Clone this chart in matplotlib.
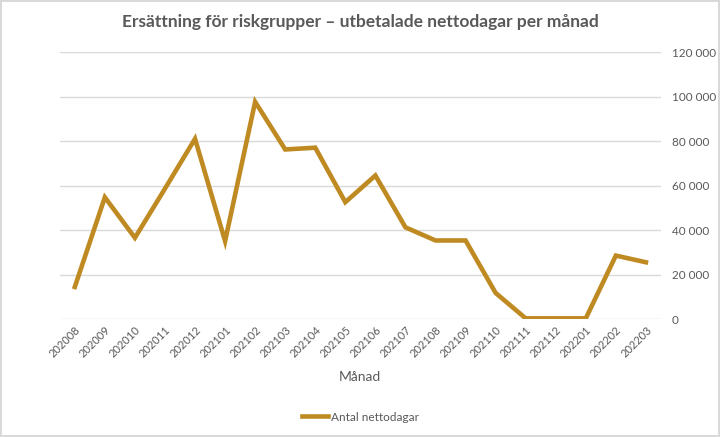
import numpy as np
import matplotlib.pyplot as plt
from matplotlib.ticker import FuncFormatter

# data
months = ['202008', '202009', '202010', '202011', '202012', '202101', '202102',
          '202103', '202104', '202105', '202106', '202107', '202108', '202109',
          '202110', '202111', '202112', '202201', '202202', '202203']
nettodagar = [14400, 54700, 36500, 58600, 81000, 35000, 97600,
              76200, 77000, 52500, 64500, 41200, 35300, 35300,
              11700, 300, 300, 300, 28500, 25500]

grey = '#595959'
gold = '#BF8A22'

plt.rcParams['font.family'] = ['Lato', 'DejaVu Sans']

fig = plt.figure(figsize=(7.2, 4.37), dpi=100)
fig.patch.set_edgecolor('#D9D9D9')
fig.patch.set_linewidth(1.5)
ax = fig.add_axes([0.083, 0.270, 0.835, 0.611])

x = np.arange(len(months))
ax.plot(x, nettodagar, color=gold, lw=3.3, solid_joinstyle='miter', label='Antal nettodagar', zorder=3)

ax.set_xlim(-0.5, len(months) - 0.5)
ax.set_ylim(0, 120000)
ax.set_yticks(np.arange(0, 120001, 20000))
ax.yaxis.set_major_formatter(FuncFormatter(lambda v, p: f'{int(v):,}'.replace(',', ' ')))
ax.yaxis.tick_right()
ax.grid(axis='y', color='#D9D9D9', lw=1)
ax.set_axisbelow(True)
for s in ax.spines.values():
    s.set_visible(False)
ax.tick_params(axis='both', length=0, colors=grey, labelsize=8.5)
ax.tick_params(axis='y', pad=8)
ax.tick_params(axis='x', labelsize=8, pad=4)

ax.set_xticks(x)
ax.set_xticklabels(months, rotation=45, ha='right', rotation_mode='anchor')

ax.set_xlabel('Månad', color=grey, fontsize=10, labelpad=8)
ax.set_title('Ersättning för riskgrupper – utbetalade nettodagar per månad',
             color=grey, fontsize=12.5, fontweight='bold', pad=18)

ax.legend(loc='center', bbox_to_anchor=(0.5, -0.367), frameon=False,
          fontsize=8.5, labelcolor=grey, handlelength=2.2, handletextpad=0.3)

fig.savefig('out.png', dpi=100)
